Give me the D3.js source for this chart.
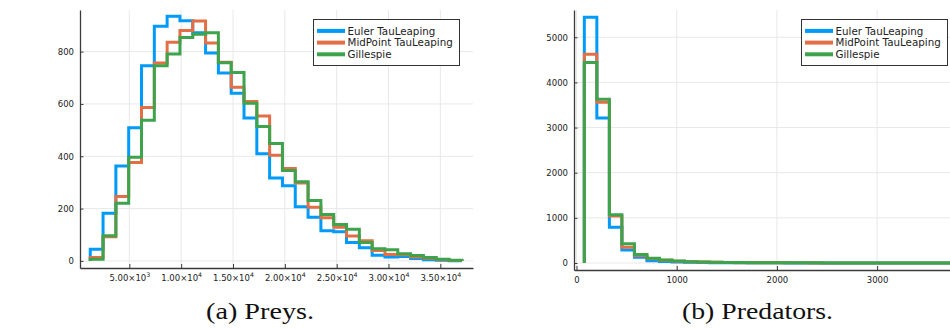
<!DOCTYPE html>
<html>
<head>
<meta charset="utf-8">
<script src="https://cdn.jsdelivr.net/npm/d3@7"></script>
<style>
  body { margin: 0; background: #fff; }
  svg { display: block; }
</style>
</head>
<body>
<svg id="fig" width="950" height="329"></svg>
<script>
// ---- data ---------------------------------------------------------------
const seriesNames  = ["Euler TauLeaping", "MidPoint TauLeaping", "Gillespie"];
const seriesColors = ["#009af9", "#e26f46", "#3da44d"];

// Preys: bin edges and counts per method
const preyEdges = [1230, 2466, 3702, 4938, 6174, 7410, 8646, 9882, 11118, 12354,
  13590, 14826, 16062, 17298, 18534, 19770, 21006, 22242, 23478, 24714,
  25950, 27186, 28422, 29658, 30894, 32130, 33366, 34602, 35838, 37074];
const preyEuler    = [45, 182, 363, 509, 746, 897, 935, 918, 872, 795, 718, 641, 546, 410, 317,
  287, 207, 167, 115, 112, 70, 50, 22, 15, 17, 9, 5, 3, 1];
const preyMidPoint = [13, 92, 246, 376, 586, 756, 836, 881, 917, 833, 759, 664, 609, 554, 404,
  353, 298, 205, 165, 129, 95, 77, 40, 25, 24, 15, 10, 5, 2];
const preyGillespie = [6, 96, 220, 396, 538, 746, 791, 854, 866, 872, 757, 720, 603, 514, 449,
  346, 303, 231, 177, 139, 121, 70, 47, 43, 27, 21, 13, 6, 3];
const preyXTicks = [5000, 10000, 15000, 20000, 25000, 30000, 35000];
const preyYTicks = [0, 200, 400, 600, 800];

// Predators: bin edges and counts per method
const predEdges = [78, 203, 328, 453, 578, 703, 828, 953, 1078, 1203, 1328, 1453, 1578,
  1703, 1828, 1953, 2078, 2203, 2328, 2453, 2578, 2703, 2828, 2953, 3078, 3203,
  3328, 3453, 3578, 3703, 3828];
const predEuler    = [5442, 3210, 790, 288, 126, 51, 34, 20, 14, 10, 8, 6, 5, 4, 3,
  3, 2, 2, 2, 1, 1, 1, 1, 1, 0, 1, 0, 0, 0, 1];
const predMidPoint = [4625, 3559, 1041, 347, 166, 96, 62, 40, 28, 20, 15, 11, 8, 7, 5,
  4, 3, 3, 2, 2, 2, 1, 1, 1, 1, 0, 1, 0, 0, 1];
const predGillespie = [4440, 3625, 1070, 428, 188, 105, 66, 45, 30, 22, 16, 12, 9, 7, 6,
  5, 4, 3, 3, 2, 2, 2, 1, 1, 1, 1, 0, 1, 0, 1];
const predXTicks = [0, 1000, 2000, 3000];
const predYTicks = [0, 1000, 2000, 3000, 4000, 5000];

const captions = ["(a) Preys.", "(b) Predators."];

// ---- drawing ------------------------------------------------------------
const svg = d3.select("#fig");
svg.append("rect").attr("width", 950).attr("height", 329).attr("fill", "#fff");

const AXIS = "#3a3a3a", TEXT = "#222", GRID = "#e8e8e8";
const tickFont = "DejaVu Sans, sans-serif";
const plainFmt = d3.format("d");

// "5.00×10³" style label
function sciLabel(sel, v) {
  const e = Math.floor(Math.log10(v));
  const m = (v / Math.pow(10, e)).toFixed(2);
  sel.text(null);
  sel.append("tspan").text(m + "×10");
  sel.append("tspan").attr("font-size", "6.3px").attr("dy", "-3.6").text(e);
}

function panel(cfg) {
  const g = svg.append("g");
  const x = d3.scaleLinear().domain(cfg.xDomain).range([cfg.left, cfg.right]);
  const y = d3.scaleLinear().domain(cfg.yDomain).range([cfg.bottom, cfg.top]);

  // grid
  g.append("g").selectAll("line").data(cfg.xTicks).join("line")
    .attr("x1", d => x(d)).attr("x2", d => x(d))
    .attr("y1", cfg.top).attr("y2", cfg.bottom)
    .attr("stroke", GRID).attr("stroke-width", 1);
  g.append("g").selectAll("line").data(cfg.yTicks).join("line")
    .attr("x1", cfg.left).attr("x2", cfg.right)
    .attr("y1", d => y(d)).attr("y2", d => y(d))
    .attr("stroke", GRID).attr("stroke-width", 1);

  // step histograms
  const line = d3.line().x(d => x(d[0])).y(d => y(d[1]));
  cfg.counts.forEach((c, i) => {
    const pts = [[cfg.edges[0], 0]];
    c.forEach((v, j) => { pts.push([cfg.edges[j], v]); pts.push([cfg.edges[j + 1], v]); });
    pts.push([cfg.edges[c.length], 0]);
    g.append("path").attr("d", line(pts))
      .attr("fill", "none").attr("stroke", seriesColors[i])
      .attr("stroke-width", 3).attr("stroke-linejoin", "miter");
  });

  // axes
  const xAxis = d3.axisBottom(x).tickValues(cfg.xTicks).tickFormat(plainFmt)
    .tickSizeInner(-4).tickSizeOuter(0).tickPadding(7);
  const gx = g.append("g").attr("transform", `translate(0,${cfg.bottom})`).call(xAxis);
  const yAxis = d3.axisLeft(y).tickValues(cfg.yTicks).tickFormat(plainFmt)
    .tickSizeInner(-3.5).tickSizeOuter(0).tickPadding(6);
  const gy = g.append("g").attr("transform", `translate(${cfg.left},0)`).call(yAxis);
  [gx, gy].forEach(a => {
    a.select(".domain").attr("stroke", AXIS).attr("stroke-width", 1.3);
    a.selectAll(".tick line").attr("stroke", AXIS).attr("stroke-width", 1);
    a.selectAll(".tick text").attr("fill", TEXT)
      .attr("font-family", tickFont).attr("font-size", "8.5px");
  });
  if (cfg.sci) gx.selectAll(".tick text").each(function (d) { sciLabel(d3.select(this), d); });

  // legend
  const L = cfg.legend;
  const lg = g.append("g");
  lg.append("rect").attr("x", L.x).attr("y", L.y).attr("width", L.w).attr("height", L.h)
    .attr("fill", "#fff").attr("stroke", "#333").attr("stroke-width", 1);
  seriesNames.forEach((name, i) => {
    const ry = L.y + 11.4 + i * 11.7;
    lg.append("line").attr("x1", L.x + 3.5).attr("x2", L.x + 31.5)
      .attr("y1", ry).attr("y2", ry)
      .attr("stroke", seriesColors[i]).attr("stroke-width", 4);
    lg.append("text").attr("x", L.x + 34).attr("y", ry).attr("dy", "0.35em")
      .attr("font-family", tickFont).attr("font-size", "10.3px").attr("fill", TEXT)
      .text(name);
  });

  // caption
  svg.append("text").attr("x", cfg.captionX).attr("y", 319)
    .attr("text-anchor", "middle")
    .attr("font-family", "Liberation Serif, serif").attr("font-size", "24px")
    .attr("fill", "#111")
    .attr("textLength", cfg.captionW).attr("lengthAdjust", "spacingAndGlyphs")
    .text(cfg.caption);
}

panel({
  left: 80, right: 473, top: 10, bottom: 268,
  xDomain: [241, 38150], yDomain: [-27, 959],
  edges: preyEdges, counts: [preyEuler, preyMidPoint, preyGillespie],
  xTicks: preyXTicks, yTicks: preyYTicks, sci: true,
  legend: { x: 313.5, y: 19.5, w: 146, h: 46 },
  caption: captions[0], captionX: 260, captionW: 108
});

panel({
  left: 574, right: 967, top: 10, bottom: 270,
  xDomain: [-25, 3897], yDomain: [-155, 5604],
  edges: predEdges, counts: [predEuler, predMidPoint, predGillespie],
  xTicks: predXTicks, yTicks: predYTicks, sci: false,
  legend: { x: 801.5, y: 19.5, w: 146, h: 46 },
  caption: captions[1], captionX: 757.5, captionW: 151
});
</script>
</body>
</html>
